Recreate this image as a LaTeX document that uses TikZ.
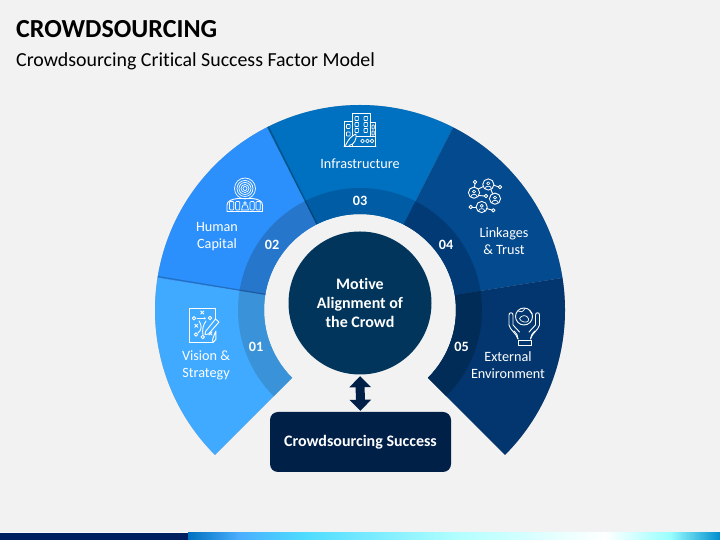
\documentclass[tikz,border=0pt]{standalone}
\usepackage{fontspec}
\setmainfont{Carlito}[Ligatures=NoCommon]
\usetikzlibrary{calc,arrows.meta}
\definecolor{bgc}{HTML}{F2F2F2}
\definecolor{sega}{HTML}{3FAAFF}
\definecolor{segb}{HTML}{2B90FB}
\definecolor{segc}{HTML}{0070C0}
\definecolor{segd}{HTML}{044A8F}
\definecolor{sege}{HTML}{03366E}
\definecolor{ringa}{HTML}{3A93D8}
\definecolor{ringb}{HTML}{2677CC}
\definecolor{ringc}{HTML}{005DA5}
\definecolor{ringd}{HTML}{023A75}
\definecolor{ringe}{HTML}{022C58}
\definecolor{hubc}{HTML}{02355C}
\definecolor{goalc}{HTML}{012048}
\definecolor{barnavy}{HTML}{002060}
\tikzset{
  lbl/.style={text=white,font=\fontsize{14.2}{17}\selectfont,align=center,inner sep=0pt},
  num/.style={text=white,font=\fontsize{14.2}{16}\selectfont\bfseries,inner sep=0pt},
  icon/.style={draw=white,line width=0.9pt,line join=round,line cap=round,fill=none},
  thinicon/.style={draw=white,line width=0.7pt,line join=round,fill=none},
  pix/.style={shift={(0,540)},x=1pt,y=-1pt}
}
\newcommand{\wedgepath}[4]{($(c)+(#1:#4)$) arc[start angle=#1,end angle=#2,radius=#4*1pt] -- ($(c)+(#2:#3)$) arc[start angle=#2,end angle=#1,radius=#3*1pt] -- cycle}
\newcommand{\xmark}[2]{\draw[icon] ({#1-1.6},{#2-1.6}) -- ({#1+1.6},{#2+1.6}) ({#1-1.6},{#2+1.6}) -- ({#1+1.6},{#2-1.6});}
\newcommand{\person}[3]{%
  \draw[icon] (#1,#2) circle[radius=#3*1pt];
  \draw[icon,line width=.7pt] (#1,{#2-.2*#3}) circle[radius=.28*#3*1pt];
  \draw[icon,line width=.7pt] ({#1-.55*#3},{#2+.7*#3}) .. controls ({#1-.5*#3},{#2+.15*#3}) and ({#1+.5*#3},{#2+.15*#3}) .. ({#1+.55*#3},{#2+.7*#3});}
\newcommand{\win}[2]{\draw[thinicon,rounded corners=.6pt] (#1,#2) rectangle ++(3.6,4);}
\begin{document}
\begin{tikzpicture}[x=1pt,y=1pt]
\useasboundingbox (0,0) rectangle (720,540);
\fill[bgc] (0,0) rectangle (720,540);
\coordinate (c) at (360,230);
% title
\node[anchor=base west,inner sep=0pt,font=\fontsize{26}{30}\selectfont\bfseries] (title) at (16,502) {CROWDSOURCING};
\node[anchor=base west,inner sep=0pt,font=\fontsize{19.9}{24}\selectfont] (subtitle) at (16,473.5) {Crowdsourcing Critical Success Factor Model};
% soft shadow of the whole band
\foreach \o/\p in {4/.05,3/.07,2/.09,1/.11}{
  \fill[black,opacity=\p,shift={(\o*.8,-\o)}] \wedgepath{-45}{225}{96}{205};
}
% wedges
\fill[sega] \wedgepath{171}{225}{96}{205};
\fill[segb] \wedgepath{117}{171}{96}{205};
\fill[segc] \wedgepath{63}{117}{96}{205};
\fill[segd] \wedgepath{9}{63}{96}{205};
\fill[sege] \wedgepath{-45}{9}{96}{205};
% inner ring
\fill[ringa] \wedgepath{171}{225}{96}{122};
\fill[ringb] \wedgepath{117}{171}{96}{122};
\fill[ringc] \wedgepath{63}{117}{96}{122};
\fill[ringd] \wedgepath{9}{63}{96}{122};
\fill[ringe] \wedgepath{-45}{9}{96}{122};
% seam shadows
\draw[black,opacity=.22,line width=1.2pt] ($(c)+(170.6:96)$) -- ($(c)+(170.6:205)$);
\draw[black,opacity=.28,line width=1.2pt] ($(c)+(116.6:96)$) -- ($(c)+(116.6:205)$);
% centre, box, connector
\node[circle,fill=hubc,minimum size=143pt,inner sep=0pt,align=center,text=white,font=\fontsize{16}{19}\selectfont\bfseries] (hub) at (360,237) {Motive\\Alignment of\\the Crowd};
\node[rounded corners=8pt,fill=goalc,minimum width=181pt,minimum height=60pt,inner sep=0pt,text=white,font=\fontsize{16}{18}\selectfont\bfseries] (goal) at (360.5,98) {\raisebox{-1pt}{Crowdsourcing Success}};
\draw[goalc,line width=9pt,{Triangle[width=21pt,length=11pt]}-{Triangle[width=21pt,length=11pt]},shorten <=1.5pt,shorten >=1pt] (hub.south) -- (goal.north);
% labels
\node[lbl] (l3) at (360,376) {Infrastructure};
\node[lbl] (l2) at (217,303.5) {Human\\Capital};
\node[lbl] (l1) at (206,174.5) {Vision \&\\Strategy};
\node[lbl] (l4) at (504,298.5) {Linkages\\\& Trust};
\node[lbl] (l5) at (508,174.5) {External\\Environment};
\node[num] (n1) at (256,193.5) {01};
\node[num] (n2) at (272,295.5) {02};
\node[num] (n3) at (360,339.5) {03};
\node[num] (n4) at (446,295.5) {04};
\node[num] (n5) at (461.5,193.5) {05};
% ---------- icons in pixel coordinates
\begin{scope}[pix]
% building
\draw[icon] (344,146.5) -- (376,146.5);
\draw[icon] (352.5,146) -- (352.5,113.5) -- (370.5,113.5) -- (370.5,136);
\draw[icon] (352.5,121) -- (344.5,121) -- (344.5,146);
\draw[icon] (370.5,122) -- (375.5,122) -- (375.5,146);
\foreach \x in {355,364}{\foreach \y in {116.5,122.5,128.5}{\win{\x}{\y}}}
\win{346.5}{124.5} \win{346.5}{132}
\draw[thinicon,rounded corners=.6pt] (372,125) rectangle ++(2.2,4);
\draw[thinicon,rounded corners=.6pt] (372,131) rectangle ++(2.2,4);
\draw[icon,fill=segc] (345.5,145.5) .. controls (348,140) and (351,136) .. (356,134) .. controls (357,139) and (354,145) .. (349,145.5);
\draw[thinicon] (356,136.5) -- (375,136.5);
\foreach \x in {362.5,367.5,372}{\draw[thinicon] (\x,141) circle[radius=1.8pt];}
% human capital
\foreach \r in {2,4,6,8,10.5}{\draw[thinicon] (245,188.5) circle[radius=\r*1pt];}
\draw[icon] (227,211.5) -- (262.5,211.5) -- (262.5,205) .. controls (262.5,201) and (258,199) .. (252,198.5) -- (238,198.5) .. controls (232,199) and (227,201) .. (227,205) -- cycle;
\foreach \x in {229.5,235.5,250,256}{\draw[thinicon,rounded corners=1pt] (\x,201.5) rectangle ++(4.3,8.5);}
\draw[thinicon] (245,203) circle[radius=1.3pt];
\draw[thinicon] (241.5,210) -- (243,205) -- (247,205) -- (248.5,210) -- cycle;
% network
\person{474}{192.7}{5.6}
\person{488.3}{184.5}{5.6}
\person{495}{198.7}{5.6}
\person{481.7}{207}{5.6}
\foreach \a/\b in {475/182,500/187,486/196,470.7/207,493.3/210.3}{\draw[icon] (\a,\b) circle[radius=1.7pt];}
\draw[icon] (475,183.7) -- (474.5,187);
\draw[icon] (478.5,189) -- (483.5,186.5);
\draw[icon] (493.8,185.3) -- (498.3,186.8);
\draw[icon] (491,189.5) -- (492.5,193.5);
\draw[icon] (479,195.5) -- (484.3,196);
\draw[icon] (472.4,207) -- (476,207);
\draw[icon] (486.5,208.5) -- (491.7,210);
% vision and strategy page
\draw[icon] (213,342.5) -- (189.3,342.5) -- (189.3,308.5) -- (215.8,308.5) -- (215.8,320);
\draw[icon] (215.8,331) -- (215.8,339.5) -- (213,342.5) -- (212.5,339.5) -- cycle;
\xmark{202.3}{312.5}
\xmark{196.3}{325.8}
\xmark{210.5}{333.5}
\draw[icon] (194,318.3) circle[radius=1.8pt];
\draw[icon] (196,334.5) circle[radius=1.8pt];
\draw[icon] (202.8,337) circle[radius=1.8pt];
\draw[icon] (210,318) circle[radius=1.8pt];
\draw[icon,-{Latex[length=2pt,width=2.5pt]}] (197,318.3) -- (206,318.3);
\draw[icon] (199,321) .. controls (202,325) and (202,330) .. (198,333);
\draw[icon] (206,321) .. controls (203,325) and (202,330) .. (203,335);
\draw[icon,fill=sega] (205.5,331.5) -- (215.5,319) -- (219,322) -- (208.5,334) -- (205,334.5) -- cycle;
% hands and globe
\draw[icon] (524,316.5) circle[radius=8.5pt];
\draw[thinicon] (518,311) .. controls (520,313) and (523,312) .. (525,308.5);
\draw[thinicon] (519.5,318.5) .. controls (522,315) and (525,315) .. (527.5,317) .. controls (530,320) and (528,323) .. (524,322) .. controls (522,321) and (520,321) .. (519.5,318.5) -- cycle;
\draw[thinicon] (529.5,310.5) .. controls (530,312) and (531.5,313) .. (532.5,314);
\draw[icon] (518,339) .. controls (516,333) and (510,330) .. (509,325) -- (509,315) .. controls (509,312) and (513,312) .. (513,315) -- (513,325) -- (519.5,332);
\draw[icon] (530.5,339) .. controls (532,333) and (538.5,330) .. (539.5,325) -- (539.5,315) .. controls (539.5,312) and (535.5,312) .. (535.5,315) -- (535.5,325) -- (529,332);
\draw[icon] (518,340) rectangle (531,345);
\draw[icon] (518,339) .. controls (518,336) and (517,334) .. (514,331);
\draw[icon] (530.5,339) .. controls (530.5,336) and (532,334) .. (535,331);
\end{scope}
% bottom bar
\fill[white,opacity=.7] (0,7) rectangle (390,7.8);
\fill[barnavy] (0,0) rectangle (188,7);
\shade[left color=segc,right color=cyan!55!blue!70!white] (188,0) rectangle (240,7);
\shade[left color=cyan!55!blue!70!white,right color=cyan!80!blue!70!white] (240,0) rectangle (303,7);
\shade[left color=cyan!80!blue!70!white,right color=cyan!30!white] (303,0) rectangle (459,7);
\shade[left color=cyan!30!white,right color=white] (459,0) rectangle (605,7);
\shade[left color=white,right color=cyan!40!white] (605,0) rectangle (670,7);
\shade[left color=cyan!40!white,right color=segc!80!cyan] (670,0) rectangle (720,7);
\end{tikzpicture}
\end{document}
